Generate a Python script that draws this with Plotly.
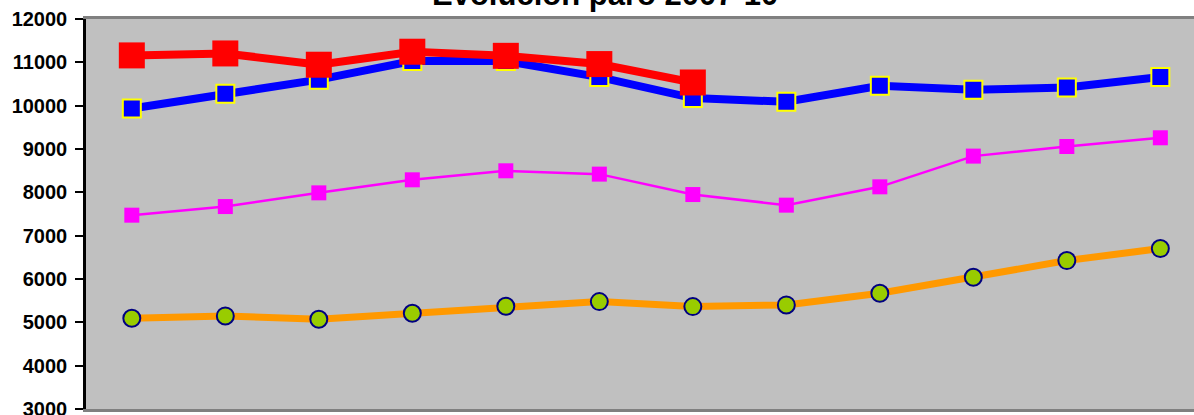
import plotly.graph_objects as go

categories = ["I-07", "II-07", "III-07", "IV-07", "I-08", "II-08", "III-08", "IV-08",
              "I-09", "II-09", "III-09", "IV-09"]

serie_roja = [11160, 11205, 10945, 11245, 11150, 10960, 10535]
serie_azul = [9935, 10275, 10600, 11030, 11030, 10660, 10176, 10090, 10460, 10367, 10420, 10660]
serie_magenta = [7473, 7672, 7988, 8289, 8497, 8420, 7949, 7704, 8127, 8836, 9058, 9259]
serie_naranja = [5095, 5148, 5072, 5210, 5372, 5478, 5363, 5402, 5672, 6042, 6425, 6702]

y_ticks = [3000, 4000, 5000, 6000, 7000, 8000, 9000, 10000, 11000, 12000]
titulo = "Evolución paro 2007-10"

FONT = "Liberation Sans, Arial, sans-serif"

fig = go.Figure()

fig.add_trace(go.Scatter(
    x=categories, y=serie_naranja, mode="lines+markers",
    line=dict(color="#FF9900", width=7),
    marker=dict(symbol="circle", size=17, color="#99CC00",
                line=dict(color="#000080", width=2)),
    showlegend=False))

fig.add_trace(go.Scatter(
    x=categories, y=serie_magenta, mode="lines+markers",
    line=dict(color="#FF00FF", width=2.5),
    marker=dict(symbol="square", size=15, color="#FF00FF", line=dict(width=0)),
    showlegend=False))

fig.add_trace(go.Scatter(
    x=categories, y=serie_azul, mode="lines+markers",
    line=dict(color="#0000FF", width=8),
    marker=dict(symbol="square", size=18, color="#0000FF",
                line=dict(color="#FFFF00", width=2)),
    showlegend=False))

fig.add_trace(go.Scatter(
    x=categories[:len(serie_roja)], y=serie_roja, mode="lines+markers",
    line=dict(color="#FF0000", width=8),
    marker=dict(symbol="square", size=26, color="#FF0000", line=dict(width=0)),
    showlegend=False))

fig.add_annotation(
    text=f"<b>{titulo}</b>", xref="paper", yref="paper",
    x=0.468, y=1, xanchor="center", yanchor="middle", yshift=25,
    showarrow=False, font=dict(family=FONT, size=31, color="black"))

fig.update_layout(
    width=1194, height=415,
    margin=dict(l=86, r=0, t=19, b=6, autoexpand=False),
    paper_bgcolor="white",
    plot_bgcolor="#C0C0C0",
    xaxis=dict(type="category", categoryorder="array", categoryarray=categories,
               range=[-0.49, 11.36], showticklabels=False, ticks="",
               showgrid=False, zeroline=False, automargin=False,
               showline=True, linecolor="#808080", linewidth=2.5, mirror=True),
    yaxis=dict(range=[3000, 12000], tickvals=y_ticks,
               ticktext=[f"<b>{v}</b>" for v in y_ticks],
               tickfont=dict(family=FONT, size=20, color="black"),
               ticks="outside", ticklen=8, tickwidth=2, tickcolor="black",
               ticklabelstandoff=4, ticklabeloverflow="allow", automargin=False,
               showgrid=False, zeroline=False,
               showline=True, linecolor="black", linewidth=2.5),
)

fig.write_html(
    "out.html",
    config={"displayModeBar": False},
    post_script="document.body.style.margin='0';document.body.style.overflow='hidden';")
